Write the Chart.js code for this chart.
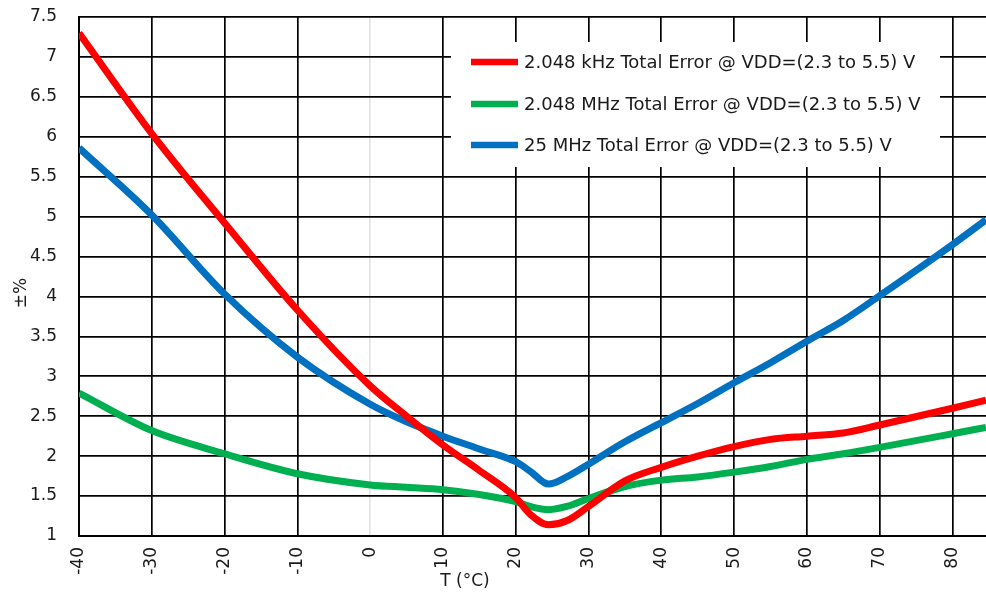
<!DOCTYPE html>
<html>
<head>
<meta charset="utf-8">
<script src="https://cdn.jsdelivr.net/npm/chart.js@4/dist/chart.umd.min.js"></script>
<style>
  html, body { margin: 0; padding: 0; background: #fff; }
  #wrap { width: 986px; height: 595px; }
</style>
</head>
<body>
<div id="wrap"><canvas id="errChart" width="986" height="595"></canvas></div>
<script>
// Temperature sample points (°C)
const temps = [-40, -30, -20, -10, 0, 5, 10, 15, 20, 22, 24.5, 27, 30, 35, 40, 45, 50, 55, 60, 65, 70, 80, 84.6];

// Total error (±%) per series
const khzErr = [7.3, 6.04, 4.92, 3.83, 2.88, 2.5, 2.14, 1.82, 1.48, 1.27, 1.14, 1.19, 1.37, 1.69, 1.86, 2.0, 2.12, 2.21, 2.25, 2.29, 2.39, 2.6, 2.7];
const mhzErr = [2.79, 2.32, 2.03, 1.78, 1.64, 1.61, 1.58, 1.52, 1.43, 1.37, 1.33, 1.37, 1.47, 1.62, 1.7, 1.74, 1.8, 1.87, 1.96, 2.03, 2.11, 2.28, 2.36];
const mhz25Err = [5.86, 5.02, 4.03, 3.24, 2.65, 2.43, 2.25, 2.09, 1.93, 1.81, 1.65, 1.74, 1.9, 2.18, 2.42, 2.66, 2.92, 3.17, 3.44, 3.7, 4.01, 4.65, 4.96];

const seriesLabels = [
  '2.048 kHz Total Error @ VDD=(2.3 to 5.5) V',
  '2.048 MHz Total Error @ VDD=(2.3 to 5.5) V',
  '25 MHz Total Error @ VDD=(2.3 to 5.5) V'
];
const seriesColors = ['#ff0000', '#00b050', '#0070c0'];

// Axis ticks
const xTicks = [-40, -30, -20, -10, 0, 10, 20, 30, 40, 50, 60, 70, 80];
const yTicks = [1, 1.5, 2, 2.5, 3, 3.5, 4, 4.5, 5, 5.5, 6, 6.5, 7, 7.5];

const FONT = '"DejaVu Sans", sans-serif';
const TEXT = '#1a1a1a';

function toPoints(ys) {
  return temps.map((t, i) => ({ x: t, y: ys[i] }));
}

// Legend box drawn inside the plot area, plus the axis titles
const overlayPlugin = {
  id: 'overlay',
  afterDatasetsDraw(chart) {
    const c = chart.ctx;
    c.save();
    c.fillStyle = '#fff';
    c.fillRect(451, 42, 489, 125);
    const rows = [62, 104, 145];
    c.font = '18px ' + FONT;
    c.textBaseline = 'middle';
    c.textAlign = 'left';
    chart.data.datasets.forEach((ds, i) => {
      c.strokeStyle = ds.borderColor;
      c.lineWidth = 6.5;
      c.beginPath();
      c.moveTo(471, rows[i]);
      c.lineTo(518, rows[i]);
      c.stroke();
      c.fillStyle = TEXT;
      c.fillText(ds.label, 524, rows[i] + 1);
    });
    c.restore();
  },
  afterDraw(chart) {
    const c = chart.ctx;
    c.save();
    c.fillStyle = TEXT;
    c.font = '17px ' + FONT;
    c.textAlign = 'center';
    c.textBaseline = 'middle';
    c.fillText('T (°C)', 465, 582);
    c.translate(22, 293);
    c.rotate(-Math.PI / 2);
    c.fillText('±%', 0, 0);
    c.restore();
  }
};

const ctx = document.getElementById('errChart').getContext('2d');
const chart = new Chart(ctx, {
  type: 'line',
  data: {
    datasets: [khzErr, mhzErr, mhz25Err].map((ys, i) => ({
      label: seriesLabels[i],
      data: toPoints(ys),
      borderColor: seriesColors[i],
      backgroundColor: seriesColors[i],
      borderWidth: 7,
      pointRadius: 0,
      cubicInterpolationMode: 'monotone',
      fill: false
    }))
  },
  options: {
    responsive: false,
    animation: false,
    layout: { padding: { top: 17, right: 0, left: 0, bottom: 0 } },
    plugins: {
      legend: { display: false },
      tooltip: { enabled: false }
    },
    scales: {
      x: {
        type: 'linear',
        min: -40,
        max: 84.6,
        afterBuildTicks: (scale) => { scale.ticks = xTicks.map(v => ({ value: v })); },
        afterFit: (scale) => {
          scale.height = 59;
          scale.paddingLeft = 0; scale.paddingRight = 0;
          scale.paddingTop = 0; scale.paddingBottom = 0;
        },
        grid: {
          color: (c) => (c.tick && c.tick.value === 0 ? '#e4e4e4' : '#000'),
          lineWidth: 1.7,
          drawTicks: false
        },
        border: { color: '#000', width: 2 },
        ticks: {
          minRotation: 90,
          maxRotation: 90,
          padding: 11,
          color: TEXT,
          font: { family: FONT, size: 17 },
          callback: (v) => String(v)
        }
      },
      y: {
        min: 1,
        max: 7.5,
        afterBuildTicks: (scale) => { scale.ticks = yTicks.map(v => ({ value: v })); },
        afterFit: (scale) => {
          scale.width = 79;
          scale.paddingLeft = 0; scale.paddingRight = 0;
          scale.paddingTop = 0; scale.paddingBottom = 0;
        },
        grid: { color: '#000', lineWidth: 1.7, drawTicks: false },
        border: { color: '#000', width: 2 },
        ticks: {
          padding: 22,
          color: TEXT,
          font: { family: FONT, size: 17 },
          callback: (v) => String(v)
        }
      }
    }
  },
  plugins: [overlayPlugin]
});
</script>
</body>
</html>
